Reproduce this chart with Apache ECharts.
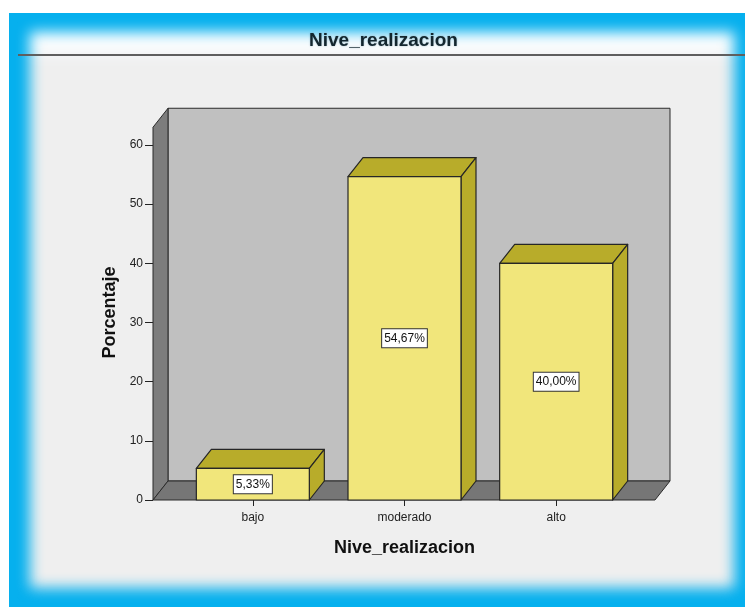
<!DOCTYPE html>
<html><head><meta charset="utf-8">
<script src="https://cdn.jsdelivr.net/npm/echarts@6/dist/echarts.min.js"></script>
<style>
html,body{margin:0;padding:0;background:#fff;width:745px;height:607px;overflow:hidden;}
#frame{position:absolute;left:9px;top:13px;width:736px;height:594px;background:#06b0ee;overflow:hidden;}
#inner{position:absolute;left:21px;top:19px;width:704px;height:556px;
  background:linear-gradient(to bottom,#ffffff 0px,#f7fbfd 22px,#efefef 23px,#efefef 100%);filter:blur(7px);}
#chart{position:absolute;left:0;top:0;width:745px;height:607px;}
</style></head>
<body>
<div id="frame"><div id="inner"></div></div>
<div id="chart"></div>
<script>
const categories = ['bajo', 'moderado', 'alto'];
const percentages = [5.33, 54.67, 40.00];
const percentLabels = ['5,33%', '54,67%', '40,00%'];
const yTicks = [0, 10, 20, 30, 40, 50, 60];
const wallTopValue = 63;

const DX = 15, DY = -19;
const FONT = 'Liberation Sans, Arial, sans-serif';

const chart = echarts.init(document.getElementById('chart'), null, {renderer: 'canvas'});

const option = {
  backgroundColor: 'transparent',
  animation: false,
  title: {
    text: 'Nive_realizacion',
    left: 309,
    top: 31,
    padding: 0,
    textStyle: {fontFamily: FONT, fontSize: 19, fontWeight: 'bold', color: '#13262e',
                textShadowColor: 'rgba(0,70,100,0.35)', textShadowBlur: 2}
  },
  graphic: [{
    type: 'line',
    shape: {x1: 18, y1: 55, x2: 745, y2: 55},
    style: {stroke: '#5f5f5f', lineWidth: 2},
    z: 10
  }],
  grid: {left: 177, right: 113, top: 145, bottom: 107},
  xAxis: {
    type: 'category',
    data: categories,
    axisLine: {show: false},
    axisTick: {show: true, alignWithLabel: true, length: 6, lineStyle: {color: '#222', width: 1}},
    axisLabel: {fontFamily: FONT, fontSize: 12, color: '#222', margin: 12},
    name: 'Nive_realizacion',
    nameLocation: 'middle',
    nameGap: 39,
    nameTextStyle: {fontFamily: FONT, fontSize: 18, fontWeight: 'bold', color: '#111'}
  },
  yAxis: {
    type: 'value',
    min: yTicks[0],
    max: yTicks[yTicks.length - 1],
    interval: 10,
    offset: 24,
    axisLine: {show: false},
    axisTick: {show: true, length: 8, lineStyle: {color: '#222', width: 1}},
    axisLabel: {fontFamily: FONT, fontSize: 12, color: '#222', margin: 10},
    splitLine: {show: false},
    name: 'Porcentaje',
    nameLocation: 'middle',
    nameRotate: 90,
    nameGap: 34,
    nameTextStyle: {fontFamily: FONT, fontSize: 18, fontWeight: 'bold', color: '#111', padding: [0, 0, 0, 20]}
  },
  series: [
    {
      type: 'custom',
      name: 'frame',
      z: 1,
      silent: true,
      data: [[0, 0]],
      renderItem: function (params, api) {
        const cs = params.coordSys;
        const y0 = api.coord([0, 0])[1];
        const yT = api.coord([0, wallTopValue])[1];
        const L = cs.x - 24, R = cs.x + cs.width + 23;
        const st = {stroke: '#2a2a2a', lineWidth: 1};
        return {
          type: 'group',
          children: [
            {type: 'polygon', shape: {points: [[L + DX, yT + DY], [R + DX, yT + DY], [R + DX, y0 + DY], [L + DX, y0 + DY]]},
             style: Object.assign({fill: '#c0c0c0'}, st)},
            {type: 'polygon', shape: {points: [[L, yT], [L + DX, yT + DY], [L + DX, y0 + DY], [L, y0]]},
             style: Object.assign({fill: '#7d7d7d'}, st)},
            {type: 'polygon', shape: {points: [[L, y0], [L + DX, y0 + DY], [R + DX, y0 + DY], [R, y0]]},
             style: Object.assign({fill: '#767676'}, st)}
          ]
        };
      }
    },
    {
      type: 'custom',
      name: 'Porcentaje',
      z: 2,
      data: percentages.map((v, i) => [i, v]),
      renderItem: function (params, api) {
        const i = api.value(0), v = api.value(1);
        const top = api.coord([i, v]);
        const base = api.coord([i, 0]);
        const w = api.size([1, 0])[0] * 0.745;
        const x1 = top[0] - w / 2, x2 = top[0] + w / 2;
        const yv = top[1], y0 = base[1];
        const st = {stroke: '#262626', lineWidth: 1.2, lineJoin: 'round'};
        return {
          type: 'group',
          children: [
            {type: 'polygon', shape: {points: [[x1, yv], [x1 + DX, yv + DY], [x2 + DX, yv + DY], [x2, yv]]},
             style: Object.assign({fill: '#b8ac2a'}, st)},
            {type: 'polygon', shape: {points: [[x2, yv], [x2 + DX, yv + DY], [x2 + DX, y0 + DY], [x2, y0]]},
             style: Object.assign({fill: '#b8ac2a'}, st)},
            {type: 'rect', shape: {x: x1, y: yv, width: w, height: y0 - yv},
             style: Object.assign({fill: '#f1e67b'}, st)},
            {type: 'text', x: top[0], y: (yv + y0) / 2,
             style: {text: percentLabels[params.dataIndex], align: 'center', verticalAlign: 'middle',
                     font: '12px ' + FONT, fill: '#111', backgroundColor: '#ffffff',
                     borderColor: '#333', borderWidth: 1, padding: [3, 2, 3, 2]}}
          ]
        };
      }
    }
  ]
};
chart.setOption(option);
</script>
</body></html>
